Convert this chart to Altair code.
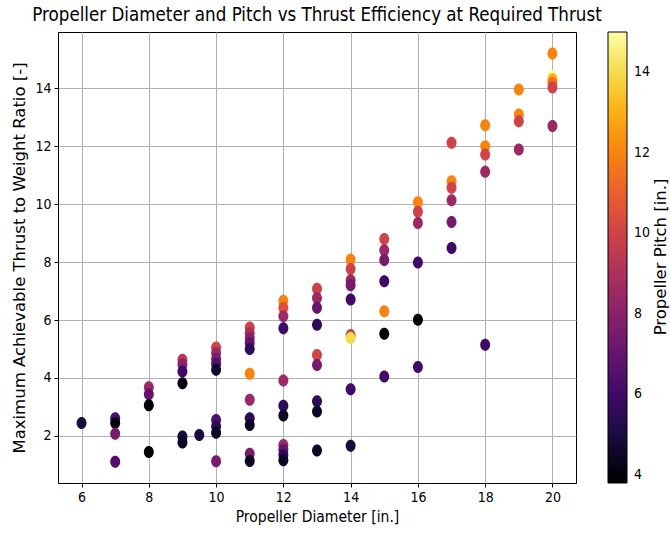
import altair as alt
import pandas as pd

# Propeller diameter [in.]
diameter = [
    6,
    7, 7, 7, 7,
    8, 8, 8, 8,
    9, 9, 9, 9, 9, 9,
    9.5,
    10, 10, 10, 10, 10, 10, 10, 10, 10,
    11, 11, 11, 11, 11, 11, 11, 11, 11, 11, 11,
    12, 12, 12, 12, 12, 12, 12, 12, 12, 12, 12,
    13, 13, 13, 13, 13, 13, 13, 13, 13,
    14, 14, 14, 14, 14, 14, 14, 14, 14,
    15, 15, 15, 15, 15, 15, 15,
    16, 16, 16, 16, 16, 16,
    17, 17, 17, 17, 17, 17,
    18, 18, 18, 18, 18,
    19, 19, 19, 19,
    20, 20, 20, 20, 20, 20,
]

# Maximum achievable thrust to weight ratio [-]
twr = [
    2.44,
    2.61, 2.44, 2.07, 1.10,
    3.68, 3.44, 3.06, 1.44,
    4.63, 4.46, 4.22, 3.82, 1.98, 1.77,
    2.03,
    5.05, 4.86, 4.65, 4.48, 4.28, 2.55, 2.32, 2.11, 1.12,
    5.74, 5.55, 5.38, 5.21, 5.00, 4.14, 3.25, 2.61, 2.37, 1.38, 1.13,
    6.67, 6.42, 6.13, 5.72, 3.91, 3.04, 2.70, 1.68, 1.52, 1.34, 1.16,
    7.08, 6.76, 6.42, 5.84, 4.79, 4.45, 3.19, 2.84, 1.49,
    8.09, 7.76, 7.37, 7.20, 6.71, 5.48, 5.38, 3.61, 1.66,
    8.80, 8.41, 8.07, 7.34, 6.30, 5.53, 4.05,
    10.07, 9.74, 9.35, 7.99, 6.01, 4.38,
    12.12, 10.79, 10.57, 10.14, 9.39, 8.49,
    12.73, 12.00, 11.72, 11.12, 5.15,
    13.96, 13.10, 12.87, 11.89,
    15.21, 14.43, 14.32, 14.20, 14.03, 12.70,
]

# Propeller pitch [in.]
pitch = [
    5,
    6.5, 4, 7.5, 6.5,
    8.5, 7, 3.8, 3.8,
    9.5, 8, 6, 4, 5, 4.5,
    5,
    10, 8.5, 7.5, 6.5, 4.7, 6.5, 5.5, 4.5, 7.5,
    10, 9, 8, 7, 5.5, 12, 8.5, 5.5, 4.5, 7.5, 4.5,
    12, 10.5, 8.5, 6, 8.5, 5.5, 4.5, 8.5, 7, 5.5, 4.5,
    10, 8.5, 7, 5.5, 10, 7.5, 5.5, 4.5, 4.5,
    12, 10, 8.5, 7.5, 6, 10, 14, 6, 5,
    10, 8.5, 7.5, 6, 12, 4, 6,
    12, 10, 8.5, 6, 4, 6,
    10, 12, 10, 8.5, 7.5, 6,
    12, 12, 10, 8.5, 6,
    12, 12, 10, 8.5,
    12, 15, 13, 11.5, 10, 8.5,
]

x_ticks = [6, 8, 10, 12, 14, 16, 18, 20]
y_ticks = [2, 4, 6, 8, 10, 12, 14]
cbar_ticks = [4, 6, 8, 10, 12, 14]

df = pd.DataFrame({"diameter": diameter, "twr": twr, "pitch": pitch})

COND = "DejaVu Sans Condensed, DejaVu Sans"
REG = "DejaVu Sans"

ellipse = "M-0.83,0A0.83,1,0,1,0,0.83,0A0.83,1,0,1,0,-0.83,0Z"

axis_common = dict(
    domain=False,
    grid=True,
    gridColor="#b0b0b0",
    gridWidth=1,
    tickColor="black",
    tickSize=4,
    tickWidth=1,
    labelFont=COND,
    labelFontSize=14,
    labelColor="black",
    labelPadding=3,
    titleColor="black",
    titleFontWeight="normal",
    format="d",
)

points = alt.Chart(df).mark_point(
    filled=True, shape=ellipse, size=144, opacity=1, strokeWidth=0
).encode(
    x=alt.X(
        "diameter:Q",
        scale=alt.Scale(domain=[5.3, 20.7], nice=False, zero=False),
        axis=alt.Axis(values=x_ticks, title="Propeller Diameter [in.]",
                      titlePadding=5, titleFont=COND, titleFontSize=15.5, **axis_common),
    ),
    y=alt.Y(
        "twr:Q",
        scale=alt.Scale(domain=[0.37, 15.95], nice=False, zero=False),
        axis=alt.Axis(values=y_ticks, title="Maximum Achievable Thrust to Weight Ratio [-]",
                      titlePadding=7, titleFont=REG, titleFontSize=16.5, **axis_common),
    ),
    color=alt.Color(
        "pitch:Q",
        scale=alt.Scale(scheme="inferno", domain=[3.8, 15], nice=False, zero=False),
        legend=alt.Legend(
            title=None, values=cbar_ticks, format="d", orient="right", offset=32,
            gradientLength=451, gradientThickness=19, gradientStrokeColor="black",
            gradientStrokeWidth=1, labelFont=COND, labelFontSize=14, labelColor="black",
            labelOffset=7, padding=0,
        ),
    ),
)

cbar_title = alt.Chart(pd.DataFrame({"label": ["Propeller Pitch [in.]"]})).mark_text(
    angle=270, font=REG, fontSize=16.5, align="center", baseline="middle", color="black"
).encode(
    text="label:N",
    x=alt.value(603),
    y=alt.value(225),
)

chart = alt.layer(points, cbar_title).properties(
    width=518,
    height=451,
    background="white",
    title=alt.TitleParams(
        "Propeller Diameter and Pitch vs Thrust Efficiency at Required Thrust",
        font=COND, fontSize=18.6, fontWeight="normal", color="black", anchor="middle", offset=7,
    ),
    padding={"left": 58, "top": 32, "right": 94, "bottom": 53},
    autosize="none",
).configure_view(
    stroke="black", strokeWidth=1
)

chart.save("out.html", embed_options={"renderer": "svg", "actions": False})
